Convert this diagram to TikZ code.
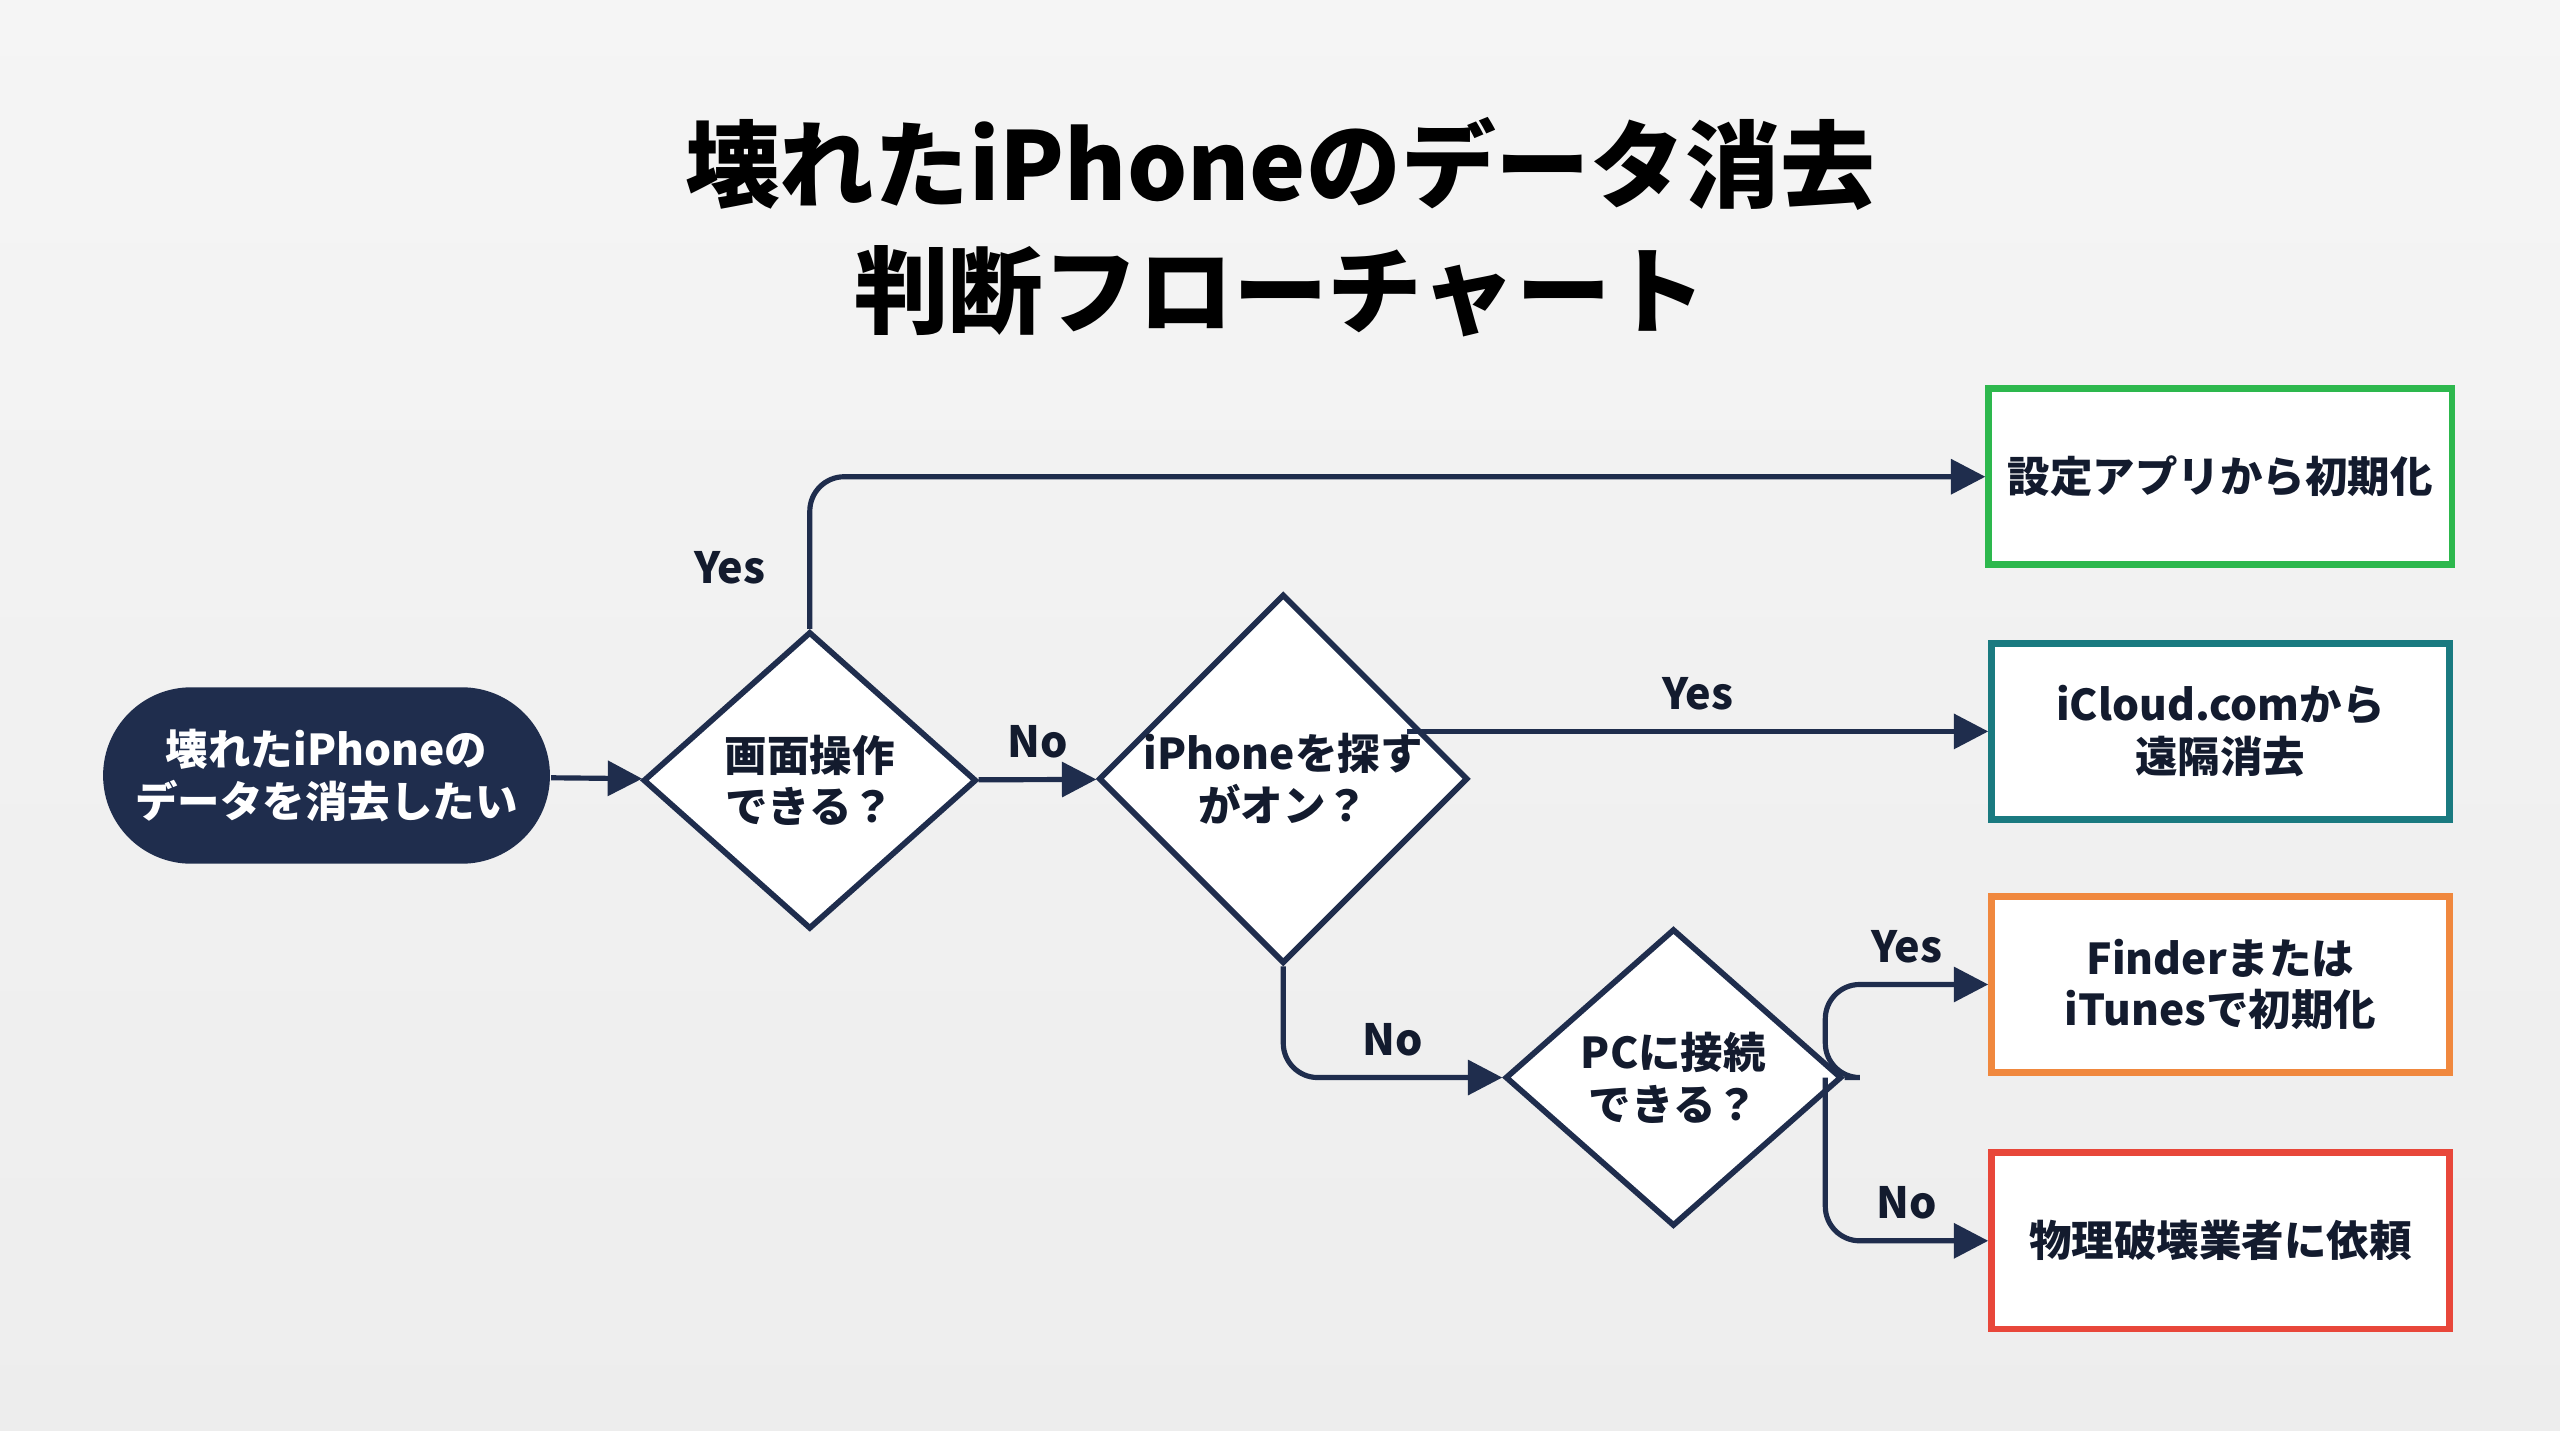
\documentclass[tikz,border=0pt]{standalone}
\usepackage{fontspec}
\setmainfont{Noto Sans CJK JP}
\usetikzlibrary{shapes.geometric, shapes.misc, arrows.meta, positioning, calc}
\definecolor{navy}{HTML}{1F2D4D}
\definecolor{okgreen}{HTML}{2DB84D}
\definecolor{teal2}{HTML}{1A7A80}
\definecolor{orng}{HTML}{F0883E}
\definecolor{redd}{HTML}{E8473A}
\tikzset{every node/.style={font=\fontsize{7.4}{9}\selectfont\bfseries, text=navy!60!black}}

\begin{document}
\begin{tikzpicture}[x=0.01cm, y=-0.01cm]
  \tikzstyle{startstop} = [rounded rectangle, minimum width=2.7cm, minimum height=1.08cm, align=center, fill=navy, text=white]
  \tikzstyle{decision} = [diamond, inner sep=0pt, align=center, draw=navy, line width=1pt, fill=white]
  \tikzstyle{result} = [rectangle, minimum width=2.8cm, minimum height=1.08cm, align=center, line width=1.2pt, fill=white]
  \tikzstyle{arrow} = [line width=0.9pt, draw=navy, -{Triangle[length=6pt, width=6pt]}, rounded corners=6pt]
  \tikzstyle{lbl} = [font=\fontsize{7.5}{9}\selectfont\bfseries]
  \shade[top color=gray!8, bottom color=gray!14] (0,0) rectangle (1568,876);
  \node (title) [font=\fontsize{16.5}{22}\selectfont\bfseries, align=center, text=black] at (784,139) {壊れたiPhoneのデータ消去\\判断フローチャート};
  \node (start) [startstop] at (200,475) {壊れたiPhoneの\\データを消去したい};
  \node (screen) [decision, minimum width=2.04cm, minimum height=1.82cm] at (496,478) {画面操作\\できる？};
  \node (find) [decision, minimum width=2.22cm, minimum height=1.8cm] at (786,477) {iPhoneを探す\\がオン？};
  \node (pc) [decision, minimum width=2.06cm, minimum height=1.82cm] at (1025,660) {PCに接続\\できる？};
  \node (settings) [result, draw=okgreen] at (1360,292) {設定アプリから初期化};
  \node (icloud) [result, draw=teal2] at (1360,448) {iCloud.comから\\遠隔消去};
  \node (finder) [result, draw=orng] at (1360,603) {Finderまたは\\iTunesで初期化};
  \node (vendor) [result, draw=redd] at (1360,760) {物理破壊業者に依頼};
  \coordinate (split) at (1118,660);
  \coordinate (findout) at (862,448);
  \draw [arrow] (start) -- (screen);
  \draw [arrow] (screen.north) |- (settings) node[lbl, pos=0.2, left=4pt] {Yes};
  \draw [arrow] (screen) -- (find) node[lbl, midway, above] {No};
  \draw [arrow] (findout) -- (icloud) node[lbl, midway, above] {Yes};
  \draw [arrow] (find.south) |- (pc) node[lbl, pos=0.75, above] {No};
  \draw [arrow] (pc.east) -- (split) |- (finder) node[lbl, pos=0.75, above] {Yes};
  \draw [arrow] (split) |- (vendor) node[lbl, pos=0.75, above] {No};
\end{tikzpicture}
\end{document}
